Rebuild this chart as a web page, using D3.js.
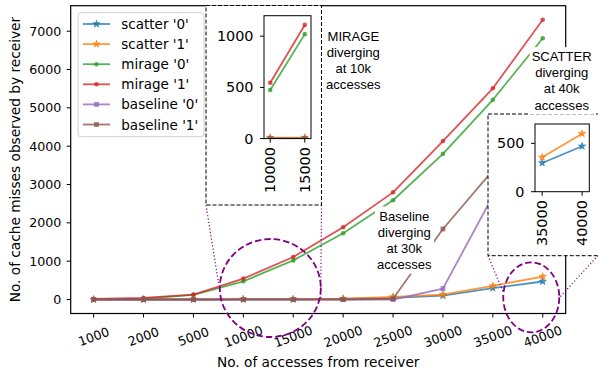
<!DOCTYPE html>
<html>
<head>
<meta charset="utf-8">
<script src="https://cdn.jsdelivr.net/npm/d3@7"></script>
<style>
  html, body { margin: 0; padding: 0; background: #fff; }
  svg { display: block; }
  text { font-family: "DejaVu Sans", sans-serif; fill: #000; }
  .note { font-family: "Liberation Sans", Arial, sans-serif; }
</style>
</head>
<body>
<div id="chart"></div>
<script>
// Number of receiver accesses (categorical x positions)
const accesses = [1000, 2000, 5000, 10000, 15000, 20000, 25000, 30000, 35000, 40000];

// Cache misses observed by the receiver, per scheme and sender bit
const scatter0  = [0, 0, 0, 5, 5, 15, 45, 100, 297, 470];
const scatter1  = [0, 0, 0, 10, 10, 25, 70, 130, 356, 600];
const mirage0   = [5, 25, 120, 475, 1020, 1730, 2590, 3800, 5210, 6815];
const mirage1   = [15, 40, 130, 545, 1110, 1885, 2795, 4135, 5510, 7300];
const baseline0 = [0, 0, 0, 0, 0, 0, 0, 285, 2700, 4100];
const baseline1 = [0, 0, 0, 0, 0, 0, 20, 1840, 3370, 4600];

const yTicksMain = [0, 1000, 2000, 3000, 4000, 5000, 6000, 7000];
const yTicksMirageZoom = [0, 500, 1000];
const yTicksScatterZoom = [0, 500];

const seriesList = [
  { name: "scatter '0'",  values: scatter0,  color: "#1f77b4", marker: "star" },
  { name: "scatter '1'",  values: scatter1,  color: "#ff7f0e", marker: "star" },
  { name: "mirage '0'",   values: mirage0,   color: "#2ca02c", marker: "dot" },
  { name: "mirage '1'",   values: mirage1,   color: "#d62728", marker: "dot" },
  { name: "baseline '0'", values: baseline0, color: "#9467bd", marker: "square" },
  { name: "baseline '1'", values: baseline1, color: "#8c564b", marker: "square" }
];

const W = 598, H = 375;
const TICK_FONT = 12.6;      // main axes tick labels
const ZOOM_TICK_FONT = 14.4; // zoom panel tick labels
const LABEL_FONT = 13.7;     // axis titles
const LEGEND_FONT = 13.5;
const NOTE_FONT = 13.1;
const ALPHA = 0.8;

const svg = d3.select("#chart").append("svg")
  .attr("width", W).attr("height", H)
  .attr("viewBox", `0 0 ${W} ${H}`);

const defs = svg.append("defs");

function drawMarker(g, type, x, y, color) {
  if (type === "star") {
    g.append("path")
      .attr("d", d3.symbol(d3.symbolStar, 16)())
      .attr("transform", `translate(${x},${y})`)
      .attr("fill", color).attr("fill-opacity", ALPHA)
      .attr("stroke", color).attr("stroke-opacity", ALPHA).attr("stroke-width", 0.8);
  } else if (type === "dot") {
    g.append("circle")
      .attr("cx", x).attr("cy", y).attr("r", 2.3)
      .attr("fill", color).attr("fill-opacity", ALPHA);
  } else {
    g.append("rect")
      .attr("x", x - 2.4).attr("y", y - 2.4)
      .attr("width", 4.8).attr("height", 4.8)
      .attr("fill", color).attr("fill-opacity", ALPHA);
  }
}

// Draws every series into a panel with the given scales, clipped to the panel
function drawSeries(g, xs, ys, cats, clipId) {
  const layer = g.append("g").attr("clip-path", clipId ? `url(#${clipId})` : null);
  seriesList.forEach(s => {
    const pts = accesses.map((a, i) => ({ a, v: s.values[i] }))
      .filter(p => cats.includes(p.a));
    const line = d3.line().x(p => xs(p.a)).y(p => ys(p.v));
    const sg = layer.append("g");
    sg.append("path")
      .attr("d", line(pts))
      .attr("fill", "none")
      .attr("stroke", s.color).attr("stroke-opacity", ALPHA)
      .attr("stroke-width", 1.8)
      .attr("stroke-linejoin", "round");
    pts.forEach(p => drawMarker(sg, s.marker, xs(p.a), ys(p.v), s.color));
  });
}

function spines(g, x0, x1, y0, y1, w) {
  g.append("rect")
    .attr("x", x0).attr("y", y1)
    .attr("width", x1 - x0).attr("height", y0 - y1)
    .attr("fill", "none").attr("stroke", "#000").attr("stroke-width", w);
}

// ---------------- main axes ----------------
const M = { left: 70.7, right: 565.7, top: 5.7, bottom: 313.5 };
const x = d3.scalePoint().domain(accesses).range([M.left, M.right]).padding(0.46);
const y = d3.scaleLinear().domain([-365, 7665]).range([M.bottom, M.top]);

const main = svg.append("g");
drawSeries(main, x, y, accesses, null);

// y axis ticks
const yAxis = main.append("g");
yTicksMain.forEach(t => {
  yAxis.append("line")
    .attr("x1", M.left - 4).attr("x2", M.left)
    .attr("y1", y(t)).attr("y2", y(t))
    .attr("stroke", "#000").attr("stroke-width", 1);
  yAxis.append("text")
    .attr("x", M.left - 9.5).attr("y", y(t))
    .attr("text-anchor", "end").attr("dominant-baseline", "central")
    .attr("font-size", TICK_FONT).text(t);
});
// x axis ticks
const xAxis = main.append("g");
accesses.forEach(a => {
  xAxis.append("line")
    .attr("x1", x(a)).attr("x2", x(a))
    .attr("y1", M.bottom).attr("y2", M.bottom + 4)
    .attr("stroke", "#000").attr("stroke-width", 1);
  xAxis.append("text")
    .attr("transform", `translate(${x(a)},336.5) rotate(-20)`)
    .attr("text-anchor", "middle").attr("dominant-baseline", "central")
    .attr("font-size", TICK_FONT).text(a);
});
spines(main, M.left, M.right, M.bottom, M.top, 1.2);

main.append("text")
  .attr("x", (M.left + M.right) / 2).attr("y", 367.3)
  .attr("text-anchor", "middle")
  .attr("font-size", LABEL_FONT).text("No. of accesses from receiver");
main.append("text")
  .attr("transform", `translate(20.3,${(M.top + M.bottom) / 2}) rotate(-90)`)
  .attr("text-anchor", "middle")
  .attr("font-size", LABEL_FONT).text("No. of cache misses observed by receiver");

// ---------------- legend ----------------
const leg = svg.append("g");
leg.append("rect")
  .attr("x", 78).attr("y", 12.7).attr("width", 126).attr("height", 124)
  .attr("rx", 3).attr("fill", "#fff").attr("fill-opacity", 0.8)
  .attr("stroke", "#d0d0d0").attr("stroke-width", 1);
seriesList.forEach((s, i) => {
  const cy = 24 + i * 20.1;
  leg.append("line")
    .attr("x1", 83).attr("x2", 110).attr("y1", cy).attr("y2", cy)
    .attr("stroke", s.color).attr("stroke-opacity", ALPHA).attr("stroke-width", 1.8);
  drawMarker(leg, s.marker, 96.5, cy, s.color);
  leg.append("text")
    .attr("x", 121.3).attr("y", cy)
    .attr("dominant-baseline", "central")
    .attr("font-size", LEGEND_FONT).text(s.name);
});

// ---------------- highlight ellipses and connectors ----------------
const purple = "#800080";
const marks = svg.append("g");
function ellipse(cx, cy, rx, ry) {
  marks.append("ellipse")
    .attr("cx", cx).attr("cy", cy).attr("rx", rx).attr("ry", ry)
    .attr("fill", "none").attr("stroke", purple)
    .attr("stroke-width", 1.8).attr("stroke-dasharray", "6.5,3");
}
function connector(x1, y1, x2, y2) {
  marks.append("line")
    .attr("x1", x1).attr("y1", y1).attr("x2", x2).attr("y2", y2)
    .attr("stroke", purple).attr("stroke-width", 1.2)
    .attr("stroke-dasharray", "1.2,2.2");
}
// around 10k-15k
ellipse(x(10000) + 0.54 * x.step(), y(300), 50.5, 49);
connector(206, 205, 218.5, 283);
connector(321.5, 205, 320.7, 298);
// around 40k
ellipse(x(40000) - 0.23 * x.step(), y(57), 28, 35);
connector(488, 255.7, 503.5, 293);
connector(598, 255.5, 560, 297);

// ---------------- zoom panels ----------------
function dashedBox(x0, y0, x1, y1) {
  svg.append("rect")
    .attr("x", x0).attr("y", y0).attr("width", x1 - x0).attr("height", y1 - y0)
    .attr("fill", "#fff").attr("stroke", "#000").attr("stroke-width", 1)
    .attr("stroke-dasharray", "4,2");
}

function zoomPanel(id, cats, box, ydom, yticks) {
  const g = svg.append("g");
  const xs = d3.scalePoint().domain(cats).range([box.left, box.right]).padding(0.18);
  const ys = d3.scaleLinear().domain(ydom).range([box.bottom, box.top]);
  defs.append("clipPath").attr("id", id).append("rect")
    .attr("x", box.left).attr("y", box.top)
    .attr("width", box.right - box.left).attr("height", box.bottom - box.top);
  g.append("rect")
    .attr("x", box.left).attr("y", box.top)
    .attr("width", box.right - box.left).attr("height", box.bottom - box.top)
    .attr("fill", "#fff");
  drawSeries(g, xs, ys, cats, id);
  yticks.forEach(t => {
    g.append("line")
      .attr("x1", box.left - 4).attr("x2", box.left)
      .attr("y1", ys(t)).attr("y2", ys(t))
      .attr("stroke", "#000").attr("stroke-width", 1);
    g.append("text")
      .attr("x", box.left - 10.5).attr("y", ys(t))
      .attr("text-anchor", "end").attr("dominant-baseline", "central")
      .attr("font-size", ZOOM_TICK_FONT).text(t);
  });
  cats.forEach(c => {
    g.append("line")
      .attr("x1", xs(c)).attr("x2", xs(c))
      .attr("y1", box.bottom).attr("y2", box.bottom + 4)
      .attr("stroke", "#000").attr("stroke-width", 1);
    g.append("text")
      .attr("transform", `translate(${xs(c)},${box.bottom + 8.5}) rotate(-90)`)
      .attr("text-anchor", "end").attr("dominant-baseline", "central")
      .attr("font-size", ZOOM_TICK_FONT).text(c);
  });
  spines(g, box.left, box.right, box.bottom, box.top, 1);
}

dashedBox(206, 5.5, 321.5, 205);
zoomPanel("clipMirage", [10000, 15000],
  { left: 264, right: 311, top: 15.7, bottom: 138.6 }, [0, 1200], yTicksMirageZoom);

dashedBox(488, 114, 604, 255.7);
zoomPanel("clipScatter", [35000, 40000],
  { left: 535, right: 589.3, top: 124, bottom: 191.7 }, [0, 700], yTicksScatterZoom);

// ---------------- annotations ----------------
function note(cx, firstY, lines, boxed) {
  const g = svg.append("g");
  const bg = g.append("rect").attr("fill", "#fff");
  const t = g.append("text").attr("class", "note")
    .attr("font-size", NOTE_FONT).attr("text-anchor", "middle");
  lines.forEach((l, i) => {
    t.append("tspan").attr("x", cx).attr("y", firstY + i * 16.1)
      .attr("dominant-baseline", "central").text(l);
  });
  if (boxed) {
    const b = t.node().getBBox();
    bg.attr("x", b.x - 2).attr("y", b.y - 2)
      .attr("width", b.width + 4).attr("height", b.height + 4);
  } else {
    bg.remove();
  }
}
note(353.3, 36, ["MIRAGE", "diverging", "at 10k", "accesses"], false);
note(561.7, 56.7, ["SCATTER", "diverging", "at 40k", "accesses"], true);
note(404.3, 216, ["Baseline", "diverging", "at 30k", "accesses"], true);
</script>
</body>
</html>
